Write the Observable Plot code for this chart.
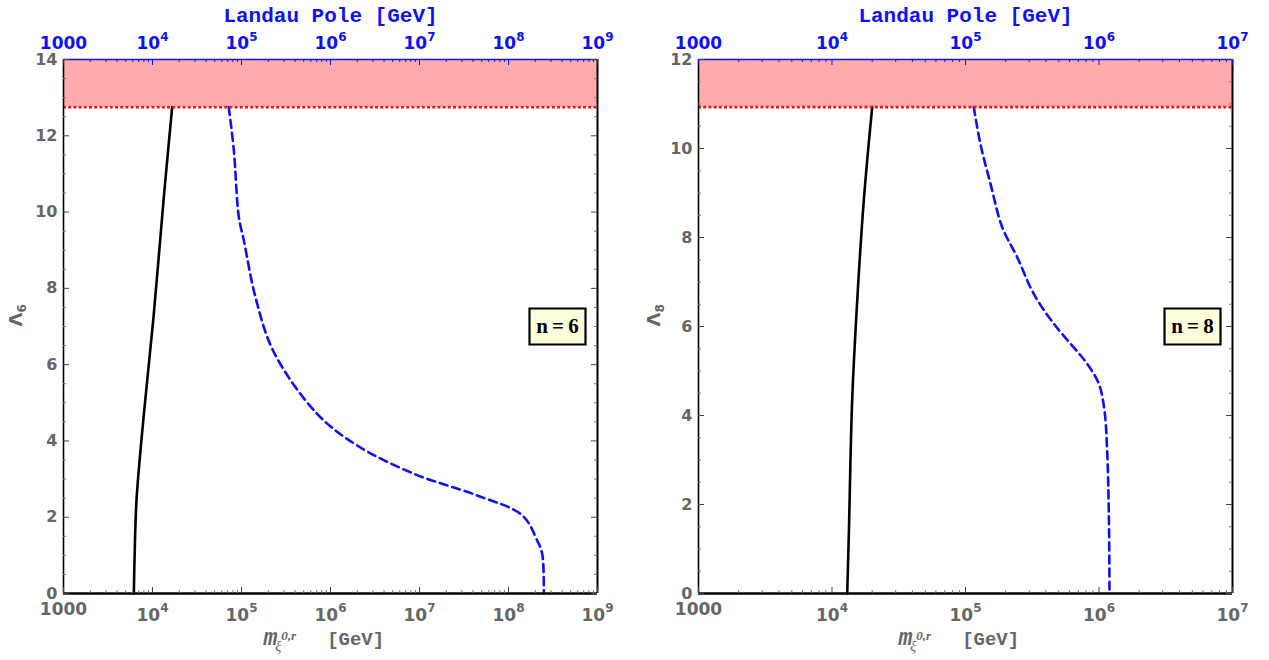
<!DOCTYPE html>
<html><head><meta charset="utf-8">
<script src="https://cdn.jsdelivr.net/npm/d3@7"></script>
<script src="https://cdn.jsdelivr.net/npm/@observablehq/plot@0.6"></script>
<style>
body{margin:0;background:#fff;}
#wrap{display:flex;width:1269px;height:660px;background:#fff;}
</style></head><body><div id="wrap"></div>
<script>
// ---------- data ----------
const n6SolidMass    = [6170, 6280, 6610, 7930, 10260, 13300, 16630];
const n6SolidLambda  = [0, 0.87, 2.44, 4.61, 7.24, 10.30, 12.75];
const n6DashedMass   = [7.19e4, 8.20e4, 9.33e4, 1.062e5, 1.435e5, 2.307e5, 7.08e5, 1.995e6, 8.63e6, 4.446e7, 1.426e8, 2.10e8, 2.39e8, 2.495e8];
const n6DashedLambda = [12.75, 11.62, 9.87, 9.26, 7.77, 6.33, 4.71, 3.88, 3.14, 2.57, 2.05, 1.39, 1.04, 0];
const n8SolidMass    = [13000, 13370, 14160, 15450, 17300, 20000];
const n8SolidLambda  = [0, 1.34, 4.34, 6.58, 8.83, 10.93];
const n8DashedMass   = [1.153e5, 1.294e5, 1.538e5, 1.884e5, 2.438e5, 3.251e5, 4.592e5, 6.471e5, 8.166e5, 9.977e5, 1.099e6, 1.151e6, 1.186e6, 1.199e6];
const n8DashedLambda = [10.93, 10.10, 9.21, 8.23, 7.56, 6.73, 6.06, 5.53, 5.16, 4.71, 4.11, 3.21, 1.71, 0];
const landauPoleLambda = [12.75, 10.93];
const xTicks6 = [1e3, 1e4, 1e5, 1e6, 1e7, 1e8, 1e9];
const xTicks8 = [1e3, 1e4, 1e5, 1e6, 1e7];
const yTicks6 = [0, 2, 4, 6, 8, 10, 12, 14];
const yTicks8 = [0, 2, 4, 6, 8, 10, 12];
const panelN = [6, 8];
const boxLambda = [7, 6];
const topTitle = "Landau Pole [GeV]";

const BLUE = "#1010f5", GREY = "#666666";

const panels = [
  {n: panelN[0], sm: n6SolidMass, sl: n6SolidLambda, dm: n6DashedMass, dl: n6DashedLambda,
   pole: landauPoleLambda[0], xTicks: xTicks6, yTicks: yTicks6, boxY: boxLambda[0],
   width: 634, mL: 63, ylDx: -47},
  {n: panelN[1], sm: n8SolidMass, sl: n8SolidLambda, dm: n8DashedMass, dl: n8DashedLambda,
   pole: landauPoleLambda[1], xTicks: xTicks8, yTicks: yTicks8, boxY: boxLambda[1],
   width: 635, mL: 64, ylDx: -44}
];

const boxSymbol = {draw(ctx) { ctx.rect(-28, -18, 56, 36); }};

function makePanel(p) {
  const W = p.width, H = 660, mR = 37, mT = 59, mB = 67;
  const iw = W - p.mL - mR, ih = H - mT - mB;
  const xMin = p.xTicks[0], xMax = p.xTicks[p.xTicks.length - 1];
  const yMax = p.yTicks[p.yTicks.length - 1];
  const dec = Math.log10(xMax / xMin);
  const xFromLeft = px => xMin * Math.pow(10, dec * px / iw);
  const xFromRight = px => xMax / Math.pow(10, dec * px / iw);
  const yLen = px => yMax * px / ih;
  const minorX = [];
  for (let e = Math.log10(xMin); e < Math.log10(xMax); e++)
    for (let m = 2; m <= 9; m++) minorX.push(m * Math.pow(10, e));
  const minorY = d3.range(0.5, yMax, 0.5).filter(v => v % 2 !== 0);
  const solid = p.sm.map((m, i) => ({m, L: p.sl[i]}));
  const dashed = p.dm.map((m, i) => ({m, L: p.dl[i]}));
  const fmtB = d => d === 1000 ? "1000" : "10^" + Math.round(Math.log10(d));
  const fmtT = d => d === 1000 ? "1000" : "10~" + Math.round(Math.log10(d));
  const tickFont = {fontSize: 17, fontWeight: "bold", fontFamily: "DejaVu Sans"};

  const svg = Plot.plot({
    width: W, height: H, marginLeft: p.mL, marginRight: mR, marginTop: mT, marginBottom: mB,
    x: {type: "log", domain: [xMin, xMax]},
    y: {domain: [0, yMax]},
    style: {background: "#fff", fontFamily: "DejaVu Sans", fontSize: "17px", overflow: "visible"},
    marks: [
      Plot.rect([0], {x1: xMin, x2: xMax, y1: p.pole, y2: yMax, fill: "#ffabab"}),
      Plot.line(solid, {x: "m", y: "L", stroke: "black", strokeWidth: 2.6, curve: "catmull-rom"}),
      Plot.line(dashed, {x: "m", y: "L", stroke: BLUE, strokeWidth: 2.6, strokeDasharray: "8,5", curve: "catmull-rom"}),
      Plot.ruleY([p.pole], {stroke: "#ff1010", strokeWidth: 2.6, strokeDasharray: "3,2.2"}),
      // frame
      Plot.ruleX([xMin], {stroke: "black", strokeWidth: 1.6}),
      Plot.ruleX([xMax], {stroke: "black", strokeWidth: 2}),
      Plot.ruleY([0], {stroke: "black", strokeWidth: 2.6}),
      Plot.ruleY([yMax], {stroke: BLUE, strokeWidth: 1.6}),
      // inward ticks
      Plot.ruleX(p.xTicks, {y1: 0, y2: yLen(6), stroke: "#444", strokeWidth: 1}),
      Plot.ruleX(minorX, {y1: 0, y2: yLen(3), stroke: "#777", strokeWidth: 1}),
      Plot.ruleX(p.xTicks, {y1: yMax - yLen(6), y2: yMax, stroke: BLUE, strokeWidth: 1}),
      Plot.ruleX(minorX, {y1: yMax - yLen(3), y2: yMax, stroke: BLUE, strokeWidth: 1}),
      Plot.ruleY(p.yTicks, {x1: xMin, x2: xFromLeft(6), stroke: "#444", strokeWidth: 1}),
      Plot.ruleY(minorY, {x1: xMin, x2: xFromLeft(3), stroke: "#777", strokeWidth: 1}),
      Plot.ruleY(p.yTicks, {x1: xFromRight(6), x2: xMax, stroke: "#444", strokeWidth: 1}),
      Plot.ruleY(minorY, {x1: xFromRight(3), x2: xMax, stroke: "#777", strokeWidth: 1}),
      // axes (labels only)
      Plot.axisX({anchor: "bottom", ticks: p.xTicks, tickSize: 0, tickPadding: 9, tickFormat: fmtB, color: GREY, label: null, ...tickFont}),
      Plot.axisX({anchor: "top", ticks: p.xTicks, tickSize: 0, tickPadding: 11, tickFormat: fmtT, color: BLUE, label: null, ...tickFont}),
      Plot.axisY({anchor: "left", ticks: p.yTicks, tickSize: 0, tickPadding: 6, color: GREY, label: null, ...tickFont, fontSize: 16}),
      // titles
      Plot.text([topTitle], {frameAnchor: "top", dy: -44, text: d => d, fill: BLUE, fontSize: 21, fontWeight: "bold", fontFamily: "Liberation Mono", lineAnchor: "middle"}),
      Plot.text(["@XLABEL@"], {frameAnchor: "bottom-left", dx: 200, dy: 46, text: d => d, textAnchor: "start", lineAnchor: "middle", fill: GREY}),
      Plot.text(["@YLABEL@"], {frameAnchor: "left", dx: p.ylDx, rotate: -90, text: d => d, lineAnchor: "middle", fill: GREY}),
      // n box
      Plot.dot([0], {frameAnchor: "right", y: p.boxY, dx: -40, symbol: boxSymbol, fill: "#ffffdc", stroke: "black", strokeWidth: 2.2}),
      Plot.text([0], {frameAnchor: "right", y: p.boxY, dx: -40, text: () => "n\u2009=\u2009" + p.n, textAnchor: "middle", fill: "black", fontSize: 21, fontWeight: "bold", fontFamily: "Liberation Serif", lineAnchor: "middle"})
    ]
  });

  const NS = "http://www.w3.org/2000/svg";
  const ts = (parent, str, attrs) => {
    const t = document.createElementNS(NS, "tspan");
    for (const k in attrs) t.setAttribute(k, attrs[k]);
    t.textContent = str;
    parent.appendChild(t);
    return t;
  };
  svg.querySelectorAll("text").forEach(t => {
    const s = t.textContent;
    let m;
    if ((m = s.match(/^10\^(\d+)$/))) {
      t.textContent = "";
      ts(t, "10", {dy: "6"});
      ts(t, m[1], {dy: "-9", "font-size": "12"});
    } else if ((m = s.match(/^10~(\d+)$/))) {
      t.textContent = "";
      ts(t, "10", {});
      ts(t, m[1], {dy: "-8", "font-size": "12"});
    } else if (s === "@XLABEL@") {
      t.textContent = "";
      ts(t, "m", {"font-size": "23", "font-style": "italic", "font-weight": "bold", "font-family": "Liberation Mono"});
      ts(t, "\u03BE", {"font-size": "14", "font-style": "italic", dy: "6", dx: "-2", "font-family": "Liberation Serif"});
      ts(t, "0,r", {"font-size": "13", "font-style": "italic", "font-weight": "bold", dy: "-11", "font-family": "Liberation Serif"});
      ts(t, "[GeV]", {"font-size": "19", "font-weight": "bold", dy: "5", dx: "31", "font-family": "Liberation Mono"});
    } else if (s === "@YLABEL@") {
      t.textContent = "";
      ts(t, "\u039B", {"font-size": "18", "font-weight": "bold"});
      ts(t, String(p.n), {"font-size": "12", "font-weight": "bold", dy: "4"});
    }
  });
  return svg;
}

const wrap = document.getElementById("wrap");
panels.forEach(p => wrap.appendChild(makePanel(p)));
</script></body></html>
